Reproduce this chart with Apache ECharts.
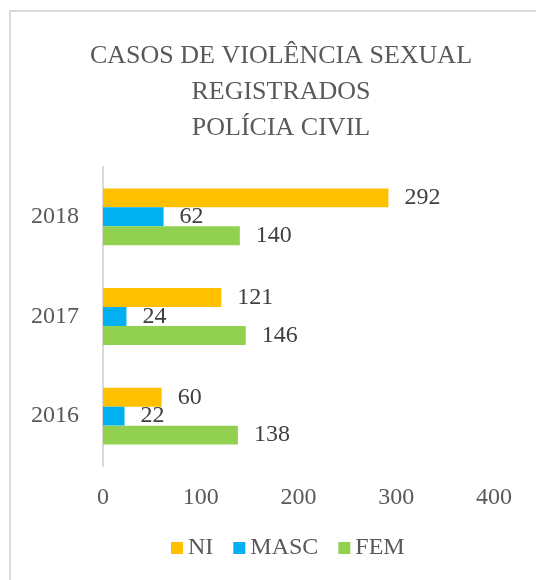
<!DOCTYPE html>
<html>
<head>
<meta charset="utf-8">
<script src="https://cdn.jsdelivr.net/npm/echarts@6/dist/echarts.min.js"></script>
<style>
  html, body { margin: 0; padding: 0; background: #fff; }
  #chart { width: 536px; height: 580px; }
</style>
</head>
<body>
<div id="chart"></div>
<script>
const years = ['2016', '2017', '2018'];
const niValues = [60, 121, 292];
const mascValues = [22, 24, 62];
const femValues = [138, 146, 140];
const xTicks = [0, 100, 200, 300, 400];

const font = '"Liberation Serif", serif';
const textColor = '#595959';

const chart = echarts.init(document.getElementById('chart'));

const label = {
  show: true,
  position: 'right',
  distance: 16,
  color: '#404040',
  fontFamily: font,
  fontSize: 24
};

chart.setOption({
  animation: false,
  title: {
    text: 'CASOS DE VIOLÊNCIA SEXUAL\nREGISTRADOS\nPOLÍCIA CIVIL',
    left: 276,
    textAlign: 'center',
    top: 33,
    textStyle: {
      fontFamily: font,
      fontWeight: 'normal',
      fontSize: 26,
      lineHeight: 36,
      color: textColor
    }
  },
  graphic: [{
    type: 'rect',
    shape: { x: 10, y: 11, width: 700, height: 700 },
    style: { fill: 'none', stroke: '#d9d9d9', lineWidth: 2 },
    silent: true
  }],
  legend: {
    data: ['NI', 'MASC', 'FEM'],
    bottom: 15,
    left: 166,
    itemWidth: 12,
    itemHeight: 12,
    itemGap: 20,
    icon: 'rect',
    textStyle: { fontFamily: font, fontSize: 24, color: textColor }
  },
  grid: { left: 103, right: 42, top: 167, bottom: 114 },
  xAxis: {
    type: 'value',
    min: xTicks[0],
    max: xTicks[xTicks.length - 1],
    interval: 100,
    axisLine: { show: false },
    axisTick: { show: false },
    splitLine: { show: false },
    axisLabel: { margin: 20, color: textColor, fontFamily: font, fontSize: 24 }
  },
  yAxis: {
    type: 'category',
    data: years,
    axisLine: { show: true, lineStyle: { color: '#d9d9d9', width: 2 } },
    axisTick: { show: false },
    axisLabel: { margin: 24, color: textColor, fontFamily: font, fontSize: 24 }
  },
  series: [
    { name: 'NI', type: 'bar', data: niValues, barGap: '0%', barCategoryGap: '43%',
      itemStyle: { color: '#FFC000' }, label },
    { name: 'MASC', type: 'bar', data: mascValues, barGap: '0%', barCategoryGap: '43%',
      itemStyle: { color: '#00B0F0' }, label },
    { name: 'FEM', type: 'bar', data: femValues, barGap: '0%', barCategoryGap: '43%',
      itemStyle: { color: '#92D050' }, label }
  ]
});
</script>
</body>
</html>
